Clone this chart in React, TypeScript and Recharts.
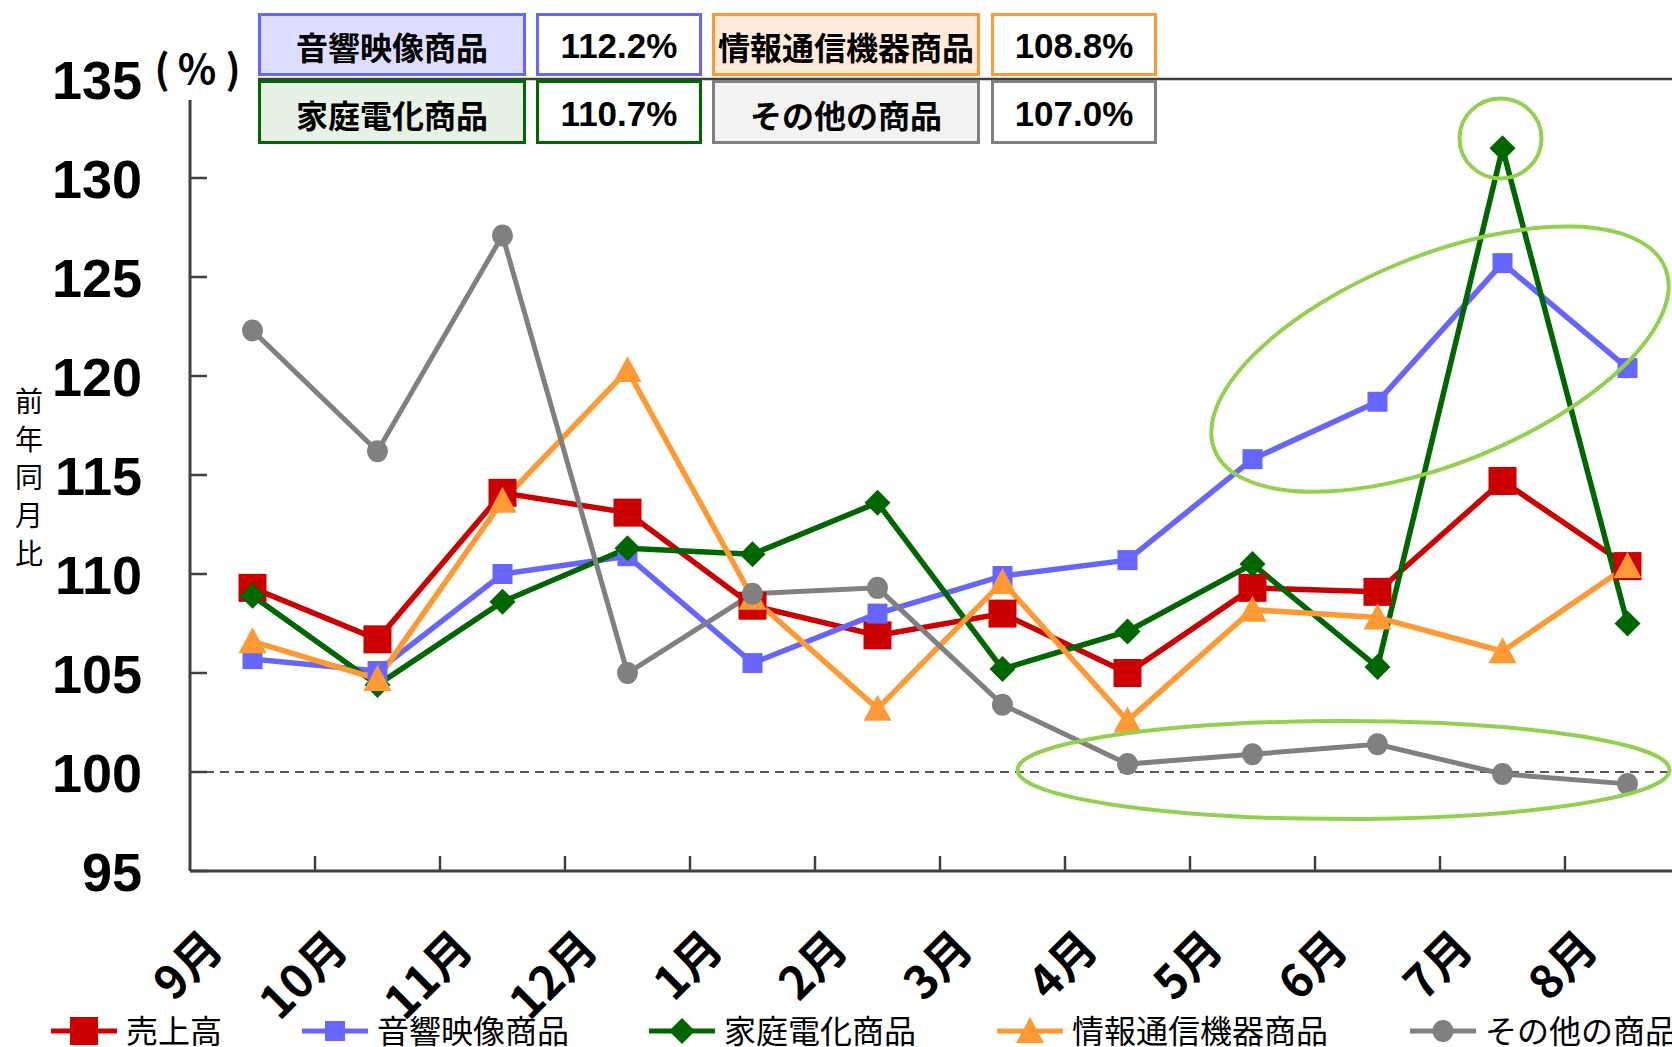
import React from 'react'
import { LineChart, Line, XAxis, YAxis, ReferenceLine, ReferenceDot } from 'recharts'

// months on the category axis
const MONTHS = ['9月', '10月', '11月', '12月', '1月', '2月', '3月', '4月', '5月', '6月', '7月', '8月']

// year-on-year ratio (%) per series
const SALES = [109.3, 106.7, 114.1, 113.1, 108.4, 106.9, 108.0, 105.0, 109.3, 109.1, 114.7, 110.4]
const AV = [105.7, 105.1, 110.0, 110.9, 105.5, 108.0, 109.9, 110.7, 115.8, 118.7, 125.7, 120.4]
const HOME = [108.9, 104.4, 108.6, 111.3, 111.0, 113.6, 105.2, 107.1, 110.5, 105.3, 131.5, 107.5]
const INFO = [106.6, 104.7, 113.7, 120.3, 108.8, 103.2, 109.6, 102.6, 108.2, 107.8, 106.1, 110.4]
const OTHER = [122.3, 116.2, 127.1, 105.0, 109.0, 109.3, 103.4, 100.4, 100.9, 101.4, 99.9, 99.4]

const Y_TICKS = [95, 100, 105, 110, 115, 120, 125, 130, 135]

// yearly totals shown in the boxes at the top
const SUMMARY_LABELS = ['音響映像商品', '情報通信機器商品', '家庭電化商品', 'その他の商品']
const SUMMARY_VALUES = [112.2, 108.8, 110.7, 107.0]

const SERIES = [
  { key: 'sales', name: '売上高', color: '#CC0000', shape: 'bigSquare', width: 5.5 },
  { key: 'av', name: '音響映像商品', color: '#6666FF', shape: 'square', width: 5.5 },
  { key: 'home', name: '家庭電化商品', color: '#006600', shape: 'diamond', width: 5.5 },
  { key: 'info', name: '情報通信機器商品', color: '#FF9933', shape: 'triangle', width: 5.5 },
  { key: 'other', name: 'その他の商品', color: '#808080', shape: 'circle', width: 5 },
]

const chartData = MONTHS.map((m, i) => ({
  month: m, sales: SALES[i], av: AV[i], home: HOME[i], info: INFO[i], other: OTHER[i],
}))

const W = 1760
const H = 1047
const PLOT_LEFT = 190
const PLOT_RIGHT = 1690
const BAND = (PLOT_RIGHT - PLOT_LEFT) / MONTHS.length
const AXIS = '#404040'
const CJK = '"Noto Sans CJK JP", "Noto Sans CJK SC", sans-serif'
const LATIN = '"Liberation Sans", Arial, sans-serif'
const ANNOT = '#92D050'

function Marker({ shape, cx, cy, color }: any) {
  if (cx == null || cy == null) return null
  switch (shape) {
    case 'bigSquare':
      return <rect x={cx - 14} y={cy - 14} width={28} height={28} fill={color} />
    case 'square':
      return <rect x={cx - 10} y={cy - 10} width={20} height={20} fill={color} />
    case 'diamond':
      return <polygon points={`${cx},${cy - 13} ${cx + 13},${cy} ${cx},${cy + 13} ${cx - 13},${cy}`} fill={color} />
    case 'triangle':
      return <polygon points={`${cx},${cy - 14} ${cx + 14},${cy + 12} ${cx - 14},${cy + 12}`} fill={color} />
    default:
      return <ellipse cx={cx} cy={cy} rx={10.5} ry={11} fill={color} />
  }
}

function YTick({ x, y, payload }: any) {
  return (
    <text x={x - 65} y={y + 20} textAnchor="end" fontFamily={LATIN} fontWeight={700} fontSize={54} fill="#000">
      {payload.value}
    </text>
  )
}

function XTick({ x, y, payload, index }: any) {
  return (
    <g>
      {index > 0 && (
        <line x1={x - BAND / 2} x2={x - BAND / 2} y1={y} y2={y - 15} stroke={AXIS} strokeWidth={2.5} />
      )}
      <text transform={`translate(${x - 27},${y + 80}) rotate(-45)`} textAnchor="end"
        fontFamily={CJK} fontWeight={700} fontSize={46} fill="#000">
        {payload.value}
      </text>
    </g>
  )
}

function SummaryBox({ left, top, width, height, border, fill, children, font, size }: any) {
  return (
    <div style={{
      position: 'absolute', left, top, width, height, boxSizing: 'border-box',
      border: `3px solid ${border}`, background: fill, display: 'flex',
      alignItems: 'center', justifyContent: 'center', fontFamily: font,
      fontWeight: 700, fontSize: size, color: '#000', whiteSpace: 'nowrap', paddingTop: 3,
    }}>
      {children}
    </div>
  )
}

const BOX_FILLS = ['#DDDDFF', '#FFEBDA', '#E6F2E6', '#F2F2F2']
const BOX_BORDERS = ['#6666FF', '#FF9933', '#006600', '#808080']

export default function App() {
  const legendX = [51, 302, 649, 997, 1410]
  return (
    <div style={{ position: 'absolute', left: 0, top: 0, width: 1672, height: 1047, overflow: 'hidden', background: '#fff' }}>
      <LineChart width={W} height={H} data={chartData}
        margin={{ top: 79, right: W - PLOT_RIGHT, left: 10, bottom: 76 }}>
        <XAxis dataKey="month" scale="band" height={100} interval={0} tickSize={0} tickMargin={0} tickLine={false}
          axisLine={{ stroke: AXIS, strokeWidth: 3 }} tick={<XTick />} />
        <YAxis width={180} domain={[95, 135]} ticks={Y_TICKS} interval={0} allowDataOverflow
          tickSize={-17} tickMargin={0} tickLine={{ stroke: AXIS, strokeWidth: 2.5 }}
          axisLine={{ stroke: AXIS, strokeWidth: 3 }} tick={<YTick />} />
        <ReferenceLine y={135} stroke={AXIS} strokeWidth={2.5} />
        <ReferenceLine y={100} stroke="#222" strokeWidth={1.6} strokeDasharray="9 6" />
        {SERIES.map((s) => (
          <Line key={s.key} dataKey={s.key} name={s.name} stroke={s.color} strokeWidth={s.width}
            isAnimationActive={false} activeDot={false}
            dot={(p: any) => <Marker key={`${s.key}-${p.index}`} shape={s.shape} cx={p.cx} cy={p.cy} color={s.color} />} />
        ))}
        <ReferenceDot x="7月" y={132} ifOverflow="visible"
          shape={(p: any) => <ellipse cx={p.cx - 2} cy={p.cy} rx={41} ry={40} fill="none" stroke={ANNOT} strokeWidth={4} />} />
        <ReferenceDot x="6月" y={120.85} ifOverflow="visible"
          shape={(p: any) => (
            <ellipse cx={p.cx + BAND / 2} cy={p.cy} rx={243} ry={104} fill="none" stroke={ANNOT} strokeWidth={4}
              transform={`rotate(-22 ${p.cx + BAND / 2} ${p.cy})`} />
          )} />
        <ReferenceDot x="6月" y={100} ifOverflow="visible"
          shape={(p: any) => <ellipse cx={p.cx - 34} cy={p.cy - 2} rx={326} ry={49} fill="none" stroke={ANNOT} strokeWidth={4} />} />
      </LineChart>

      <svg width={1672} height={1047} style={{ position: 'absolute', left: 0, top: 0, pointerEvents: 'none' }}>
        <rect x={148} y={46} width={110} height={54} fill="#fff" />
        <g fontFamily={CJK} fontWeight={700} fontSize={40} fill="#000" textAnchor="middle">
          <text x={162} y={84}>(</text>
          <text x={197} y={84}>%</text>
          <text x={233} y={84}>)</text>
        </g>
        <text x={29} fontFamily={CJK} fontSize={28} fill="#000" textAnchor="middle">
          {'前年同月比'.split('').map((c, i) => (
            <tspan key={i} x={29} y={412 + i * 38}>{c}</tspan>
          ))}
        </text>
        {SERIES.map((s, i) => (
          <g key={s.key}>
            <line x1={legendX[i]} x2={legendX[i] + 66} y1={1031} y2={1031} stroke={s.color} strokeWidth={5} />
            <Marker shape={s.shape} cx={legendX[i] + 33} cy={1031} color={s.color} />
            <text x={legendX[i] + 75} y={1029} dominantBaseline="central" fontFamily={CJK} fontSize={32} fill="#000">{s.name}</text>
          </g>
        ))}
      </svg>

      {SUMMARY_LABELS.map((label, i) => {
        const col = i % 2
        const row = Math.floor(i / 2)
        const top = row === 0 ? 13 : 80
        const h = row === 0 ? 63 : 64
        const labelLeft = col === 0 ? 258 : 712
        const valueLeft = col === 0 ? 536 : 991
        return (
          <React.Fragment key={label}>
            <SummaryBox left={labelLeft} top={top} width={268} height={h} border={BOX_BORDERS[i]}
              fill={BOX_FILLS[i]} font={CJK} size={32}>{label}</SummaryBox>
            <SummaryBox left={valueLeft} top={top} width={166} height={h} border={BOX_BORDERS[i]}
              fill="#fff" font={LATIN} size={35}>{SUMMARY_VALUES[i].toFixed(1)}%</SummaryBox>
          </React.Fragment>
        )
      })}
    </div>
  )
}
